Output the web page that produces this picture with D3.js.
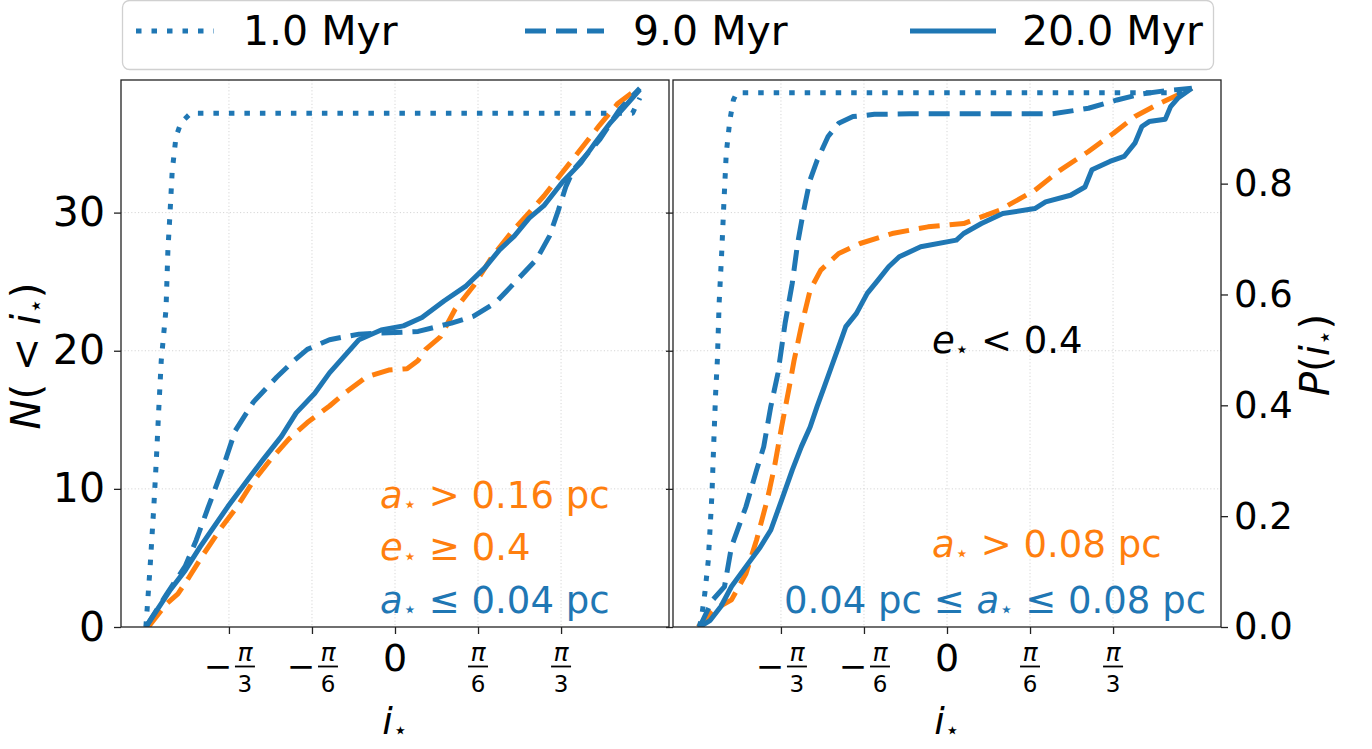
<!DOCTYPE html>
<html>
<head>
<meta charset="utf-8">
<script src="https://cdn.jsdelivr.net/npm/d3@7"></script>
<style>
  html, body { margin: 0; background: #fff; overflow: hidden; }
  svg { display: block; }
  text { font-family: "DejaVu Sans", sans-serif; }
</style>
</head>
<body>
<div id="chart"></div>
<script>
// ---- data: [inclination (rad), value] ----
// left panel: cumulative counts N(<i)
const left1Myr = [[-1.571,0],[-1.544,4.4],[-1.521,8.7],[-1.505,12.1],[-1.490,15.7],[-1.474,19.3],[-1.444,23.0],[-1.432,27.3],[-1.420,29.7],[-1.405,33.0],[-1.381,35.5],[-1.350,36.5],[-1.288,37.2],[1.498,37.2],[1.544,38.3]];
const left9Myr = [[-1.571,0],[-1.439,2.4],[-1.323,4.4],[-1.253,6.3],[-1.180,8.6],[-1.089,11.4],[-1.008,14.2],[-0.892,16.3],[-0.745,18.1],[-0.635,19.3],[-0.553,20.1],[-0.413,20.8],[-0.227,21.2],[-0.040,21.3],[0.146,21.4],[0.356,22.0],[0.496,22.5],[0.636,23.5],[0.752,24.9],[0.892,26.6],[0.974,28.3],[1.031,30.2],[1.078,31.9],[1.125,33.1],[1.292,35.3],[1.418,37.5],[1.544,39.0]];
const left20Myr = [[-1.571,0],[-1.416,2.7],[-1.323,4.1],[-1.229,5.8],[-1.055,8.7],[-0.926,10.7],[-0.833,12.1],[-0.716,13.8],[-0.623,15.5],[-0.507,16.9],[-0.413,18.4],[-0.343,19.3],[-0.227,20.8],[-0.087,21.5],[0.053,21.8],[0.170,22.4],[0.309,23.6],[0.449,24.7],[0.566,26.0],[0.659,27.3],[0.752,28.3],[0.846,29.6],[0.939,30.5],[1.055,32.2],[1.172,33.6],[1.265,35.1],[1.358,36.5],[1.451,37.7],[1.544,38.9]];
const leftOuter = [[-1.556,0],[-1.439,1.7],[-1.369,2.4],[-1.299,3.6],[-1.206,5.3],[-1.089,7.3],[-0.996,8.7],[-0.903,10.4],[-0.786,12.1],[-0.670,13.6],[-0.553,14.8],[-0.413,16.0],[-0.320,16.9],[-0.180,18.1],[-0.040,18.6],[0.076,18.7],[0.146,19.3],[0.193,20.1],[0.286,21.0],[0.379,23.0],[0.496,24.7],[0.612,26.8],[0.729,28.5],[0.846,30.0],[0.939,31.2],[1.055,32.9],[1.172,34.6],[1.288,36.3],[1.405,37.9],[1.521,38.9]];

// right panel: cumulative fraction P(i)
const right1Myr = [[-1.563,0],[-1.550,0.013],[-1.527,0.061],[-1.505,0.121],[-1.482,0.241],[-1.471,0.331],[-1.459,0.422],[-1.448,0.482],[-1.437,0.584],[-1.421,0.674],[-1.407,0.765],[-1.392,0.855],[-1.369,0.915],[-1.347,0.951],[-1.325,0.964],[1.468,0.964],[1.531,0.972]];
const right9Myr = [[-1.560,0],[-1.480,0.048],[-1.403,0.073],[-1.359,0.145],[-1.268,0.217],[-1.201,0.283],[-1.156,0.325],[-1.111,0.398],[-1.066,0.458],[-1.021,0.548],[-0.976,0.620],[-0.942,0.692],[-0.908,0.746],[-0.863,0.807],[-0.819,0.842],[-0.750,0.885],[-0.683,0.909],[-0.593,0.921],[-0.458,0.925],[-0.233,0.926],[0.667,0.926],[0.892,0.936],[1.072,0.951],[1.229,0.962],[1.386,0.968],[1.544,0.972]];
const right20Myr = [[-1.560,0],[-1.493,0.012],[-1.426,0.037],[-1.359,0.073],[-1.268,0.109],[-1.178,0.144],[-1.111,0.175],[-1.043,0.229],[-0.976,0.283],[-0.919,0.325],[-0.863,0.361],[-0.819,0.398],[-0.773,0.434],[-0.728,0.470],[-0.683,0.506],[-0.638,0.542],[-0.571,0.566],[-0.503,0.602],[-0.435,0.626],[-0.368,0.650],[-0.301,0.668],[-0.166,0.686],[0.059,0.698],[0.105,0.710],[0.217,0.728],[0.352,0.746],[0.554,0.755],[0.622,0.767],[0.779,0.779],[0.870,0.794],[0.914,0.825],[1.027,0.840],[1.117,0.849],[1.185,0.873],[1.229,0.903],[1.275,0.912],[1.376,0.916],[1.410,0.939],[1.455,0.954],[1.544,0.972]];
const rightOuter = [[-1.570,0],[-1.471,0.031],[-1.359,0.049],[-1.268,0.096],[-1.201,0.157],[-1.134,0.229],[-1.088,0.289],[-1.043,0.361],[-0.998,0.428],[-0.965,0.480],[-0.919,0.542],[-0.863,0.608],[-0.796,0.644],[-0.683,0.674],[-0.548,0.692],[-0.346,0.710],[-0.120,0.722],[0.105,0.728],[0.330,0.752],[0.554,0.788],[0.712,0.824],[0.892,0.858],[1.050,0.891],[1.185,0.921],[1.342,0.945],[1.455,0.960],[1.544,0.972]];

// ticks
const xTicks = [-Math.PI / 3, -Math.PI / 6, 0, Math.PI / 6, Math.PI / 3];
const xTickLabels = [{neg: true, den: "3"}, {neg: true, den: "6"}, {neg: false, den: null}, {neg: false, den: "6"}, {neg: false, den: "3"}];
const nTicks = [0, 10, 20, 30];
const pTicks = [0, 0.2, 0.4, 0.6, 0.8];
const legendLabels = ["1.0 Myr", "9.0 Myr", "20.0 Myr"];

const blue = "#1f77b4", orange = "#ff7f0e";
const dotted = "5.5,10", dashed = "21,10";

const svg = d3.select("#chart").append("svg")
    .attr("width", 1372)
    .attr("height", 749);

// scales
const xDomain = [-1.1 * Math.PI / 2, 1.1 * Math.PI / 2];
const xLeft = d3.scaleLinear().domain(xDomain).range([121, 669]);
const xRight = d3.scaleLinear().domain(xDomain).range([673, 1221]);
const yN = d3.scaleLinear().domain([0, 39.6]).range([627, 80]);
const yP = d3.scaleLinear().domain([0, 0.987]).range([627, 80]);

// small helper for math-like text: parts are [string, "i" italic | "s" star subscript | ""]
function mathText(g, x, y, parts, size, color, anchor, rotate) {
    const t = g.append("text")
        .attr("x", x).attr("y", y)
        .attr("font-size", size)
        .attr("fill", color || "#000")
        .attr("text-anchor", anchor || "start");
    if (rotate) t.attr("transform", "rotate(-90," + x + "," + y + ")");
    let shift = 0;
    parts.forEach(p => {
        const ts = t.append("tspan").text(p[0]);
        if (p[1] === "s") {
            ts.attr("font-size", size * 0.62).attr("dy", size * 0.1 - shift);
            shift = size * 0.1;
        } else {
            if (shift !== 0) { ts.attr("dy", -shift); shift = 0; }
            if (p[1] === "i") ts.attr("font-style", "italic");
        }
    });
    return t;
}

function drawPanel(x, y, series, clipId) {
    const g = svg.append("g");
    const [x0, x1] = x.range();

    // grid
    g.selectAll(".vgrid").data(xTicks).enter().append("line")
        .attr("x1", d => x(d)).attr("x2", d => x(d))
        .attr("y1", 80).attr("y2", 627)
        .attr("stroke", "#d6d6d6").attr("stroke-width", 1)
        .attr("stroke-dasharray", "1.2,2.2");
    g.selectAll(".hgrid").data(nTicks.slice(1)).enter().append("line")
        .attr("x1", x0).attr("x2", x1)
        .attr("y1", d => yN(d)).attr("y2", d => yN(d))
        .attr("stroke", "#d6d6d6").attr("stroke-width", 1)
        .attr("stroke-dasharray", "1.2,2.2");

    svg.append("clipPath").attr("id", clipId)
        .append("rect").attr("x", x0).attr("y", 80).attr("width", x1 - x0).attr("height", 547);

    const line = d3.line().x(d => x(d[0])).y(d => y(d[1]));
    series.forEach(s => {
        g.append("path")
            .datum(s.data)
            .attr("clip-path", "url(#" + clipId + ")")
            .attr("fill", "none")
            .attr("stroke", s.color)
            .attr("stroke-width", 5)
            .attr("stroke-dasharray", s.dash)
            .attr("stroke-linejoin", "round")
            .attr("d", line);
    });

    // bottom axis ticks
    const ax = g.append("g")
        .attr("transform", "translate(0,627)")
        .call(d3.axisBottom(x).tickValues(xTicks).tickSize(7).tickFormat(""));
    ax.select(".domain").remove();
    ax.selectAll(".tick line").attr("stroke", "#222").attr("stroke-width", 1.3);

    // tick labels as fractions of pi
    xTicks.forEach((t, k) => {
        const lab = xTickLabels[k];
        const lg = g.append("g").attr("transform", "translate(" + x(t) + ",0)");
        if (lab.den === null) {
            lg.append("text").attr("x", 0).attr("y", 671).attr("font-size", 38)
                .attr("text-anchor", "middle").text("0");
            return;
        }
        const fx = lab.neg ? 16 : 0;
        if (lab.neg) {
            lg.append("text").attr("x", -11).attr("y", 678).attr("font-size", 34)
                .attr("text-anchor", "middle").text("\u2212");
        }
        lg.append("text").attr("x", fx).attr("y", 661).attr("font-size", 25)
            .attr("font-style", "italic").attr("text-anchor", "middle").text("\u03c0");
        lg.append("line").attr("x1", fx - 10).attr("x2", fx + 10)
            .attr("y1", 666.5).attr("y2", 666.5)
            .attr("stroke", "#000").attr("stroke-width", 1.8);
        lg.append("text").attr("x", fx).attr("y", 691.5).attr("font-size", 23)
            .attr("text-anchor", "middle").text(lab.den);
    });

    // x label
    mathText(g, (x0 + x1) / 2, 734, [["i", "i"], ["\u22c6", "s"]], 38, "#000", "middle");

    // frame
    g.append("rect")
        .attr("x", x0).attr("y", 80).attr("width", x1 - x0).attr("height", 547)
        .attr("fill", "none").attr("stroke", "#222").attr("stroke-width", 1.3);
    return g;
}

// ---- left panel ----
const gl = drawPanel(xLeft, yN, [
    {data: leftOuter, color: orange, dash: dashed},
    {data: left1Myr, color: blue, dash: dotted},
    {data: left9Myr, color: blue, dash: dashed},
    {data: left20Myr, color: blue, dash: null}
], "clipL");

const yAxL = gl.append("g")
    .attr("transform", "translate(121,0)")
    .call(d3.axisLeft(yN).tickValues(nTicks).tickSize(7).tickPadding(9).tickFormat(d3.format("d")));
yAxL.select(".domain").remove();
yAxL.selectAll(".tick line").attr("stroke", "#222").attr("stroke-width", 1.3);
yAxL.selectAll(".tick text").attr("font-size", 41).attr("font-family", "DejaVu Sans").attr("fill", "#000");

mathText(gl, 40, 356, [["N", "i"], ["( < ", ""], ["i", "i"], ["\u22c6", "s"], [")", ""]], 40, "#000", "middle", true);

mathText(gl, 380, 508, [["a", "i"], ["\u22c6", "s"], [" > 0.16 pc", ""]], 37, orange);
mathText(gl, 380, 560, [["e", "i"], ["\u22c6", "s"], [" \u2265 0.4", ""]], 37, orange);
mathText(gl, 380, 613, [["a", "i"], ["\u22c6", "s"], [" \u2264 0.04 pc", ""]], 37, blue);

// ---- right panel ----
const gr = drawPanel(xRight, yP, [
    {data: rightOuter, color: orange, dash: dashed},
    {data: right1Myr, color: blue, dash: dotted},
    {data: right9Myr, color: blue, dash: dashed},
    {data: right20Myr, color: blue, dash: null}
], "clipR");

const yAxRl = gr.append("g")
    .attr("transform", "translate(673,0)")
    .call(d3.axisLeft(yN).tickValues(nTicks).tickSize(7).tickFormat(""));
yAxRl.select(".domain").remove();
yAxRl.selectAll(".tick line").attr("stroke", "#222").attr("stroke-width", 1.3);

const yAxR = gr.append("g")
    .attr("transform", "translate(1221,0)")
    .call(d3.axisRight(yP).tickValues(pTicks).tickSize(7).tickPadding(6).tickFormat(d3.format(".1f")));
yAxR.select(".domain").remove();
yAxR.selectAll(".tick line").attr("stroke", "#222").attr("stroke-width", 1.3);
yAxR.selectAll(".tick text").attr("font-size", 37).attr("font-family", "DejaVu Sans").attr("fill", "#000");

mathText(gr, 1329, 355, [["P", "i"], ["(", ""], ["i", "i"], ["\u22c6", "s"], [")", ""]], 40, "#000", "middle", true);

mathText(gr, 932, 353, [["e", "i"], ["\u22c6", "s"], [" < 0.4", ""]], 37, "#000");
mathText(gr, 932, 557, [["a", "i"], ["\u22c6", "s"], [" > 0.08 pc", ""]], 37, orange);
mathText(gr, 1206, 613, [["0.04 pc \u2264 ", ""], ["a", "i"], ["\u22c6", "s"], [" \u2264 0.08 pc", ""]], 37, blue, "end");

// ---- legend ----
const leg = svg.append("g");
leg.append("rect")
    .attr("x", 122.5).attr("y", 0.5).attr("width", 1091).attr("height", 69).attr("rx", 7)
    .attr("fill", "#fff").attr("stroke", "#d0d0d0").attr("stroke-width", 1.3);
const legItems = [
    {x1: 136, x2: 214, tx: 243, dash: dotted},
    {x1: 525, x2: 604, tx: 633, dash: dashed},
    {x1: 910, x2: 996, tx: 1022, dash: null}
];
legItems.forEach((d, k) => {
    leg.append("line")
        .attr("x1", d.x1).attr("x2", d.x2).attr("y1", 31).attr("y2", 31)
        .attr("stroke", blue).attr("stroke-width", 5)
        .attr("stroke-dasharray", d.dash);
    leg.append("text")
        .attr("x", d.tx).attr("y", 45)
        .attr("font-size", 41)
        .text(legendLabels[k]);
});
</script>
</body>
</html>
